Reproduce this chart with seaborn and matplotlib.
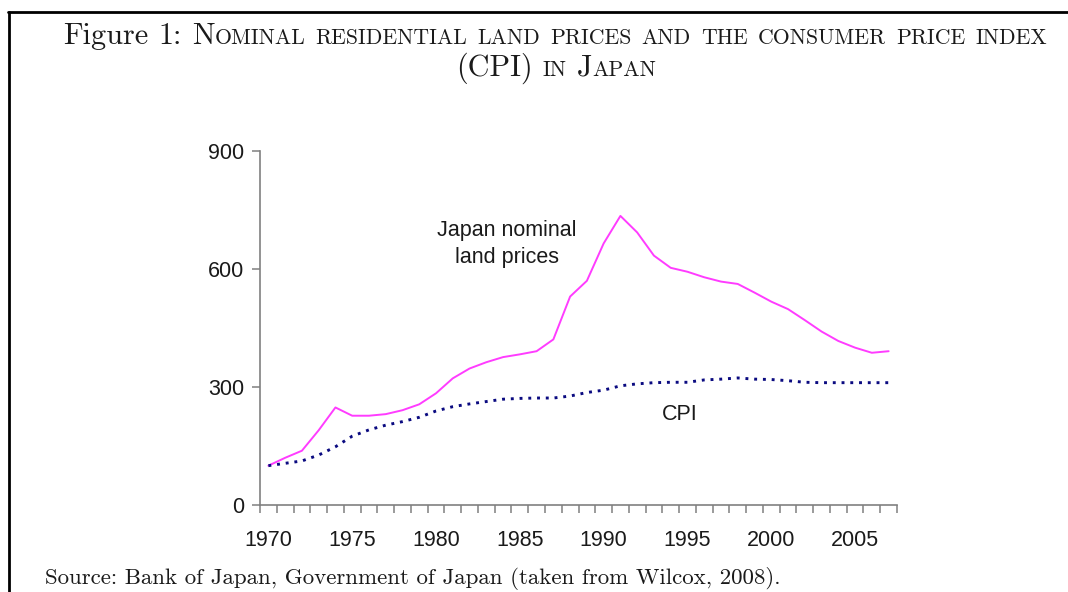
import matplotlib
matplotlib.use("Agg")
import matplotlib.pyplot as plt
import pandas as pd
import seaborn as sns
from matplotlib.lines import Line2D

# Dati (indice, 1970 = 100)
years = list(range(1970, 2008))
land_prices = [100, 120, 138, 190, 248, 227, 227, 231, 241, 256,
               284, 322, 347, 363, 376, 383, 391, 421, 530, 570,
               665, 735, 693, 634, 603, 593, 579, 568, 562, 540,
               517, 498, 470, 441, 417, 400, 387, 391]
cpi = [100, 106, 112, 127, 148, 175, 191, 203, 212, 223,
       239, 250, 257, 263, 269, 271, 272, 272, 277, 286,
       292, 303, 308, 311, 312, 312, 318, 320, 323, 320,
       319, 316, 312, 311, 311, 311, 311, 311]
y_ticks = [0, 300, 600, 900]
x_labels = [1970, 1975, 1980, 1985, 1990, 1995, 2000, 2005]

title_line1 = [("Figure", False), ("1:", False), ("Nominal", True), ("residential", True),
               ("land", True), ("prices", True), ("and", True), ("the", True),
               ("consumer", True), ("price", True), ("index", True)]
title_line2 = [("(CPI)", False), ("in", True), ("Japan", True)]
source_text = "Source: Bank of Japan, Government of Japan (taken from Wilcox, 2008)."

df = pd.DataFrame({"year": years, "land": land_prices, "cpi": cpi})

sns.set_style("white")
plt.rcParams['font.family'] = ['Liberation Sans', 'DejaVu Sans']

W, H = 1068, 592
fig = plt.figure(figsize=(W / 100, H / 100), dpi=100)
ax = fig.add_axes([260 / W, 1 - 505 / H, 637 / W, 354 / H])

# Linee
sns.lineplot(data=df, x="year", y="land", color="#ff3cff", lw=1.4, ax=ax)
sns.lineplot(data=df, x="year", y="cpi", color="#0a0a80", lw=2.1, ax=ax,
             linestyle=(0, (1.0, 2.0)), dash_capstyle="butt")

ax.set_xlim(1969.5, 2007.5)
ax.set_ylim(0, 900)
ax.set_xlabel("")
ax.set_ylabel("")

# Assi in stile Excel
gray = "#808080"
for side in ["top", "right"]:
    ax.spines[side].set_visible(False)
for side in ["left", "bottom"]:
    ax.spines[side].set_color(gray)
    ax.spines[side].set_linewidth(1.2)

ax.set_yticks(y_ticks)
ax.tick_params(axis="y", direction="out", length=5.5, width=1.1, color=gray,
               labelsize=15.5, pad=6, labelcolor="#1a1a1a", left=True)
ax.set_xticks(x_labels)
ax.set_xticks([y - 0.5 for y in years] + [years[-1] + 0.5], minor=True)
ax.tick_params(axis="x", which="major", length=0, labelsize=15.5, pad=18,
               labelcolor="#1a1a1a", bottom=True)
ax.tick_params(axis="x", which="minor", direction="out", length=6, width=1.1,
               color=gray, bottom=True)

# Etichette delle serie
ax.text(1984.24, 664, "Japan nominal\nland prices", ha="center", va="center",
        fontsize=15.5, linespacing=1.4, color="#1a1a1a")
ax.text(1994.56, 229, "CPI", ha="center", va="center", fontsize=15.5, color="#1a1a1a")

# Titolo in maiuscoletto (simulato)
renderer = fig.canvas.get_renderer()
SC = 0.72


def runs_of(word, small):
    if not small:
        return [(word, 1.0)]
    runs = []
    for ch in word:
        scale = SC if ch.islower() else 1.0
        if runs and runs[-1][1] == scale:
            runs[-1] = (runs[-1][0] + ch.upper(), scale)
        else:
            runs.append((ch.upper(), scale))
    return runs


def text_width(s, size):
    t = fig.text(0, 0, s, fontsize=size, family="cmr10")
    w = t.get_window_extent(renderer).width
    t.remove()
    return w


def line_width(words, size):
    space = text_width("N N", size) - text_width("NN", size)
    total = 0
    for word, small in words:
        for txt, sc in runs_of(word, small):
            total += text_width(txt, size * sc)
        total += space
    return total - space


def draw_line(words, size, x_center, y_base):
    space = text_width("N N", size) - text_width("NN", size)
    x = x_center - line_width(words, size) / 2
    for word, small in words:
        for txt, sc in runs_of(word, small):
            fig.text(x / W, 1 - y_base / H, txt, fontsize=size * sc, family="cmr10",
                     ha="left", va="baseline", color="#1a1a1a")
            x += text_width(txt, size * sc)
        x += space


title_size = 10 * 984 / line_width(title_line1, 10)
draw_line(title_line1, title_size, 555, 44)
draw_line(title_line2, title_size, 556, 76)

src_size = 10 * 738 / text_width(source_text, 10)
fig.text(45 / W, 1 - 584 / H, source_text, fontsize=src_size, family="cmr10",
         ha="left", va="baseline", color="#1a1a1a")

# Cornice
fig.add_artist(Line2D([8 / W, 1], [1 - 12 / H, 1 - 12 / H], color="black", lw=2,
                      transform=fig.transFigure))
fig.add_artist(Line2D([9 / W, 9 / W], [0, 1 - 12 / H], color="black", lw=2,
                      transform=fig.transFigure))

plt.savefig("out.png", dpi=100)
